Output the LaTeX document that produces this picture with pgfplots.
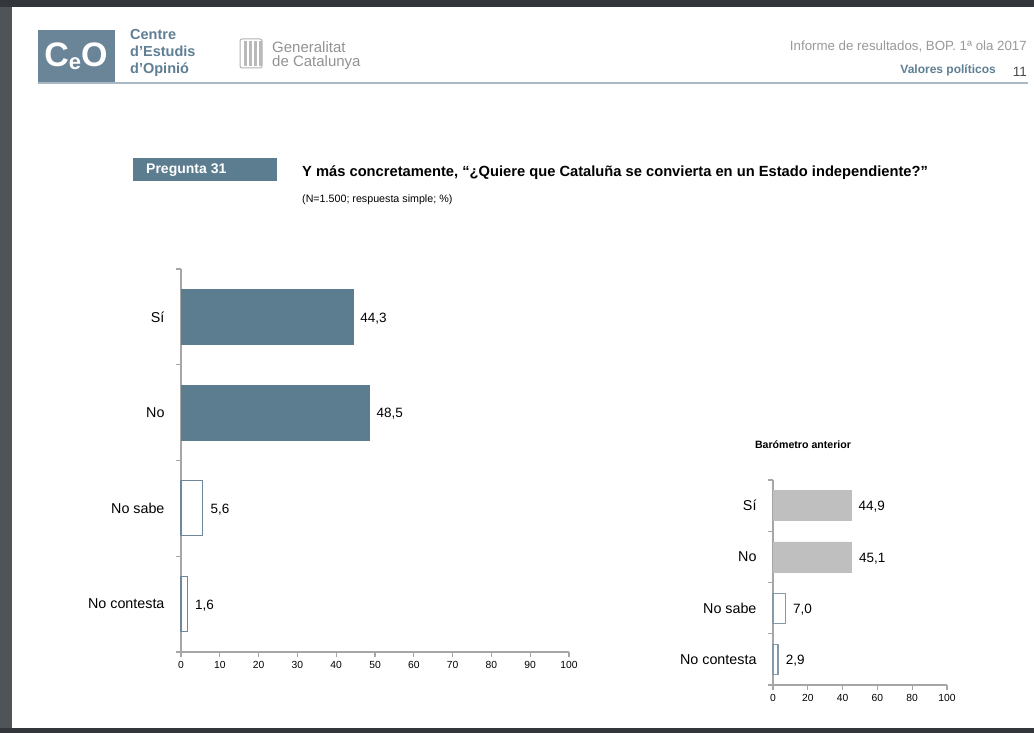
\documentclass[border=0pt]{standalone}
\usepackage{pgfplots}
\pgfplotsset{compat=1.18}
\usepackage{fontspec}
\setmainfont{Liberation Sans}

\definecolor{ceo}{HTML}{5C7C90}
\definecolor{ceologo}{HTML}{6A8498}
\definecolor{ceotext}{HTML}{5F7F94}
\definecolor{openline}{HTML}{6E8899}
\definecolor{openlight}{HTML}{8699A7}
\definecolor{axgray}{HTML}{A6A6A6}
\definecolor{prevbar}{HTML}{BFBFBF}
\definecolor{hdrline}{HTML}{A9B8C3}
\definecolor{bgdark}{HTML}{4E5458}
\definecolor{bgtop}{HTML}{33373B}

\newcommand{\fs}[1]{\fontsize{#1}{#1}\selectfont}

\pgfplotsset{
  catbars/.style={
    scale only axis, anchor=south west,
    xmin=0, xmax=100, ymin=0.5, ymax=4.5,
    xbar, bar shift=0pt,
    axis x line*=bottom, axis y line*=left,
    axis line style={-, draw=axgray, line width=1.3pt},
    ytick={0.5,1.5,2.5,3.5,4.5}, yticklabels={},
    tick align=outside, major tick length=5pt,
    tick style={draw=axgray, line width=1.3pt},
    extra y ticks={1,2,3,4},
    extra y tick labels={No contesta,No sabe,No,Sí},
    extra y tick style={major tick length=0pt,
      tick label style={font=\fs{14.3}, xshift=-13pt}},
    xticklabel style={font=\fs{10.3}, yshift=-1pt},
    /pgf/number format/assume math mode=true,
    point meta=x,
    nodes near coords={\pgfmathprintnumber[fixed,fixed zerofill,precision=1,use comma,assume math mode=true]{\pgfplotspointmeta}},
    nodes near coords style={font=\fs{13.5}, anchor=west, xshift=4pt, yshift=-1.5pt, text=black},
    clip=false,
  }
}

\begin{document}
\begin{tikzpicture}
% page on dark background
\fill[bgdark] (0pt,0pt) rectangle (1034pt,-733pt);
\fill[bgtop] (0pt,0pt) rectangle (1034pt,-7pt);
\fill[bgtop] (0pt,-728pt) rectangle (1034pt,-733pt);
\fill[white] (12pt,-7pt) rectangle (1034pt,-728pt);
\useasboundingbox (0pt,0pt) rectangle (1034pt,-733pt);

% header
\fill[ceologo] (38pt,-30pt) rectangle (115pt,-83pt);
\node[text=white, font=\fs{34}\bfseries, inner sep=0pt] at (76pt,-56pt)
  {C\raisebox{-3pt}{\fs{22}e}O};
\node[anchor=base west, text=ceotext, font=\fs{14.5}\bfseries, inner sep=0pt] at (130pt,-40pt) {Centre};
\node[anchor=base west, text=ceotext, font=\fs{14.5}\bfseries, inner sep=0pt] at (130pt,-57pt) {d’Estudis};
\node[anchor=base west, text=ceotext, font=\fs{14.5}\bfseries, inner sep=0pt] at (130pt,-74pt) {d’Opinió};
\draw[gray!60, line width=1pt, rounded corners=2pt] (240pt,-39pt) rectangle (262pt,-68pt);
\foreach \xx in {244,249,254,259} \fill[gray!55] (\xx pt,-41pt) rectangle ++(2.5pt,-25pt);
\node[anchor=base west, text=gray!85, font=\fs{15}, inner sep=0pt] at (272pt,-53pt) {Generalitat};
\node[anchor=base west, text=gray!85, font=\fs{15}, inner sep=0pt] at (272pt,-67pt) {de Catalunya};
\draw[hdrline, line width=1.5pt] (38pt,-83pt) -- (1028pt,-83pt);
\node[anchor=base east, text=gray!80, font=\fs{13.3}, inner sep=0pt] at (1027pt,-51pt) {Informe de resultados, BOP. 1ª ola 2017};
\node[anchor=base east, text=ceotext, font=\fs{12}\bfseries, inner sep=0pt] at (996pt,-74pt) {Valores políticos};
\node[anchor=base east, text=black!70, font=\fs{13.5}, inner sep=0pt] at (1027pt,-77pt) {11};

% question
\fill[ceo] (133pt,-158pt) rectangle (277pt,-181pt);
\node[anchor=west, text=white, font=\fs{14}\bfseries, inner sep=0pt] at (146pt,-170pt) {Pregunta 31};
\node[anchor=base west, font=\fs{14.7}\bfseries, inner sep=0pt] at (302pt,-177pt)
  {Y más concretamente, “¿Quiere que Cataluña se convierta en un Estado independiente?”};
\node[anchor=base west, font=\fs{10.7}, inner sep=0pt] at (302pt,-202pt) {(N=1.500; respuesta simple; \%)};

% current wave
\begin{axis}[catbars, at={(181pt,-652pt)}, width=388pt, height=383pt,
  bar width=55pt, xtick={0,10,...,100}]
\addplot[fill=ceo, draw=ceo] coordinates {(44.3,4) (48.5,3)};
\addplot[fill=white, draw=openline, line width=1.2pt] coordinates {(5.6,2) (1.6,1)};
\end{axis}

% previous barometer
\node[font=\fs{10.6}\bfseries, anchor=base, inner sep=0pt] at (803pt,-448pt) {Barómetro anterior};
\begin{axis}[catbars, at={(773pt,-685pt)}, width=174pt, height=205pt,
  bar width=30pt, xtick={0,20,...,100}]
\addplot[fill=prevbar, draw=prevbar] coordinates {(44.9,4) (45.1,3)};
\addplot[fill=white, draw=openlight, line width=1.2pt] coordinates {(7.0,2) (2.9,1)};
\end{axis}
\end{tikzpicture}
\end{document}
